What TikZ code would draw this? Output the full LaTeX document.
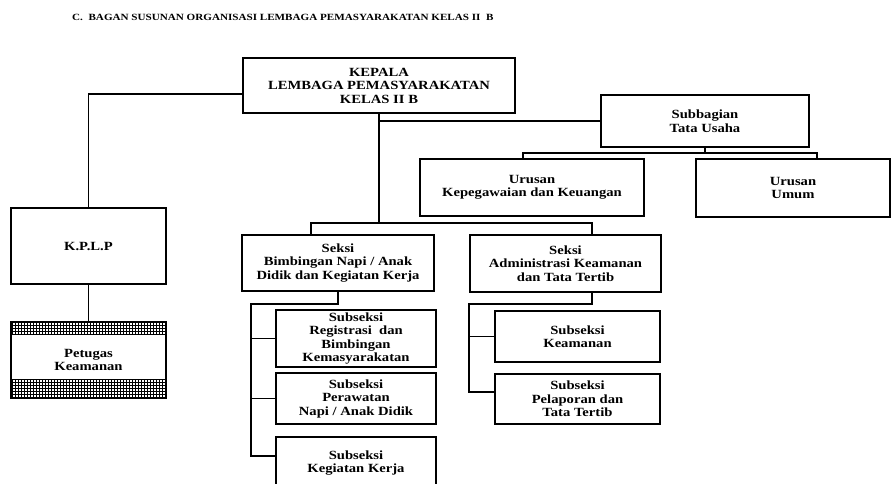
\documentclass[tikz,border=0pt]{standalone}
\usepackage{fontspec}
\setmainfont{Liberation Serif}[FakeStretch=1.17]
\usetikzlibrary{positioning, patterns}

\tikzset{
  kotak/.style={draw, line width=1.4pt, align=center, inner sep=0pt,
    font=\bfseries\fontsize{12.5}{13.5}\selectfont},
  garis/.style={line width=1.4pt},
}

\begin{document}
\begin{tikzpicture}[x=1pt, y=-1pt]
    \useasboundingbox (0,0) rectangle (892,484);
    \node[anchor=west, inner sep=0pt, font=\bfseries\fontsize{9.5}{12}\selectfont] (judul) at (72,17)
      {C.\ \ BAGAN SUSUNAN ORGANISASI LEMBAGA PEMASYARAKATAN KELAS II\ \ B};

    \node[kotak, minimum width=272pt, minimum height=55pt] (kepala) at (379,85.5)
      {KEPALA\\LEMBAGA PEMASYARAKATAN\\KELAS II B};
    \node[kotak, minimum width=155pt, minimum height=76pt] (kplp) at (88.5,246) {K.P.L.P};
    \node[kotak, minimum width=155pt, minimum height=76pt] (petugas) at (88.5,360) {Petugas\\Keamanan};
    \node[kotak, minimum width=208pt, minimum height=52pt] (subbag) at (705,121) {Subbagian\\Tata Usaha};
    \node[kotak, minimum width=224pt, minimum height=57pt] (urkeu) at (532,187.5)
      {Urusan\\Kepegawaian dan Keuangan};
    \node[kotak, minimum width=194pt, minimum height=58pt] (urumum) at (793,188) {Urusan\\Umum};

    \node[kotak, minimum width=192pt, minimum height=56pt] (bimb) at (338,263)
      {Seksi\\Bimbingan Napi / Anak\\Didik dan Kegiatan Kerja};
    \node[kotak, minimum width=191pt, minimum height=57pt] (admin) at (565.5,263.5)
      {Seksi\\Administrasi Keamanan\\dan Tata Tertib};

    \node[kotak, minimum width=160pt, minimum height=57pt] (regis) at (356,338.5)
      {Subseksi\\Registrasi\ \ dan\\Bimbingan\\Kemasyarakatan};
    \node[kotak, minimum width=160pt, minimum height=51pt] (rawat) at (356,398.5)
      {Subseksi\\Perawatan\\Napi / Anak Didik};
    \node[kotak, minimum width=160pt, minimum height=52pt] (kerja) at (356,463)
      {Subseksi\\Kegiatan Kerja};
    \node[kotak, minimum width=165pt, minimum height=51pt] (keam) at (577.5,336.5)
      {Subseksi\\Keamanan};
    \node[kotak, minimum width=165pt, minimum height=50pt] (lapor) at (577.5,399)
      {Subseksi\\Pelaporan dan\\Tata Tertib};

    \draw[garis, pattern=grid] (petugas.north west) rectangle ([yshift=-13pt]petugas.north east);
    \draw[garis, pattern=grid] ([yshift=19pt]petugas.south west) rectangle (petugas.south east);

    \coordinate (busA) at (379,223);
    \coordinate (busB) at (705,153);
    \coordinate (spineA) at (251,304);
    \coordinate (spineB) at (469,304);

    \draw[garis] ([yshift=-8.5pt]kepala.west) -| (kplp.north);
    \draw[garis] (kplp.south) -- (petugas.north);
    \draw[garis] (kepala.south) |- (subbag.west);
    \draw[garis] (kepala.south) -- (busA);
    \draw[garis] ([xshift=-27pt]bimb.north) |- (busA) -| ([xshift=26.5pt]admin.north);
    \draw[garis] (subbag.south) -- (busB);
    \draw[garis] ([xshift=-9pt]urkeu.north) |- (busB) -| ([xshift=24pt]urumum.north);

    \draw[garis] (bimb.south) |- (spineA) |- ([yshift=7pt]kerja.west);
    \draw[garis] (spineA |- regis.west) -- (regis.west);
    \draw[garis] (spineA |- rawat.west) -- (rawat.west);
    \draw[garis] ([xshift=26.5pt]admin.south) |- (spineB) |- ([yshift=7pt]lapor.west);
    \draw[garis] (spineB |- keam.west) -- (keam.west);
\end{tikzpicture}
\end{document}
